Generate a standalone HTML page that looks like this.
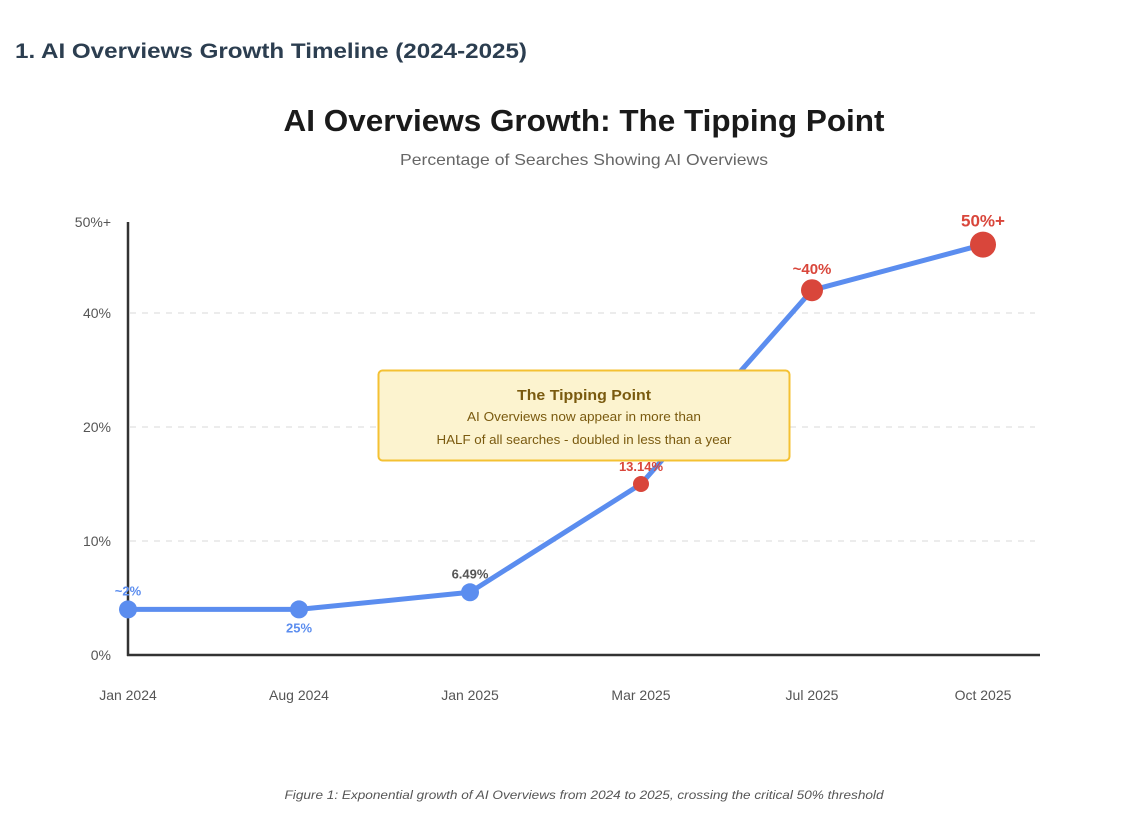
<!DOCTYPE html>
<html><head><meta charset="utf-8"><style>
body{margin:0;width:1146px;height:817px;background:#fff;font-family:"Liberation Sans","DejaVu Sans",sans-serif;overflow:hidden}
</style></head><body>
<svg id="c" width="1146" height="817" xmlns="http://www.w3.org/2000/svg">
<text x="15" y="58" font-size="21" font-weight="bold" fill="#2c3e50" textLength="512" lengthAdjust="spacingAndGlyphs">1. AI Overviews Growth Timeline (2024-2025)</text>
<text x="584" y="131" font-size="31" font-weight="bold" fill="#1a1a1a" text-anchor="middle" textLength="601" lengthAdjust="spacingAndGlyphs">AI Overviews Growth: The Tipping Point</text>
<text x="584" y="165" font-size="16" fill="#666" text-anchor="middle" textLength="368" lengthAdjust="spacingAndGlyphs">Percentage of Searches Showing AI Overviews</text>
<g id="grid"></g>
<line x1="128" y1="222" x2="128" y2="656" stroke="#333" stroke-width="2.5"/>
<line x1="127" y1="655" x2="1040" y2="655" stroke="#333" stroke-width="2.5"/>
<g id="marks"></g>
<g>
<rect x="378.5" y="370.5" width="411" height="90" rx="4" fill="#fcf3cf" stroke="#f4c133" stroke-width="2"/>
<text x="584" y="400" font-size="15" font-weight="bold" fill="#7a5a0f" text-anchor="middle" textLength="134" lengthAdjust="spacingAndGlyphs">The Tipping Point</text>
<text x="584" y="421" font-size="12.5" fill="#7a5a0f" text-anchor="middle" textLength="234" lengthAdjust="spacingAndGlyphs">AI Overviews now appear in more than</text>
<text x="584" y="444" font-size="12.5" fill="#7a5a0f" text-anchor="middle" textLength="295" lengthAdjust="spacingAndGlyphs">HALF of all searches - doubled in less than a year</text>
</g>
<text x="584" y="799" font-size="12" font-style="italic" fill="#555" text-anchor="middle" textLength="599" lengthAdjust="spacingAndGlyphs">Figure 1: Exponential growth of AI Overviews from 2024 to 2025, crossing the critical 50% threshold</text>
</svg>
<script>
const categories=["Jan 2024","Aug 2024","Jan 2025","Mar 2025","Jul 2025","Oct 2025"];
const values=[4,4,5.5,15,32,36];
const pointLabels=["~2%","25%","6.49%","13.14%","~40%","50%+"];
const tickValues=[0,10,20,30,38];
const tickLabels=["0%","10%","20%","40%","50%+"];
const NS="http://www.w3.org/2000/svg";
function x(i){return 128+i*171;}
function y(v){return 655-v*11.4;}
function mk(p,t,a){const e=document.createElementNS(NS,t);for(const k in a)e.setAttribute(k,a[k]);p.appendChild(e);return e;}
const grid=document.getElementById('grid'),marks=document.getElementById('marks');
tickValues.forEach((v,i)=>{
 if(v>0&&v<38){const l=mk(grid,'line',{x1:130,x2:1035,y1:y(v),y2:y(v),stroke:'#e6e6e6','stroke-width':1.5,'stroke-dasharray':'6 6'});
 
 }
 const t=mk(grid,'text',{x:111,y:y(v)+5,'font-size':14,fill:'#555','text-anchor':'end'});t.textContent=tickLabels[i];
 
 
});
categories.forEach((c,i)=>{
 const t=mk(grid,'text',{x:x(i),y:700,'font-size':14,fill:'#555','text-anchor':'middle'});t.textContent=c;
 
 
});
const path=mk(marks,'polyline',{points:values.map((v,i)=>x(i)+','+y(v)).join(' '),fill:'none',stroke:'#5b8def','stroke-width':5,'stroke-linejoin':'round'});


const radii=[9,9,9,8,11,13];
const colors=['#5b8def','#5b8def','#5b8def','#d9463b','#d9463b','#d9463b'];
const lcol=['#5b8def','#5b8def','#555','#d9463b','#d9463b','#d9463b'];
const fs=[13,13,13,13,15,17];
values.forEach((v,i)=>{
 const c=mk(marks,'circle',{cx:x(i),cy:y(v),r:radii[i],fill:colors[i]});
 
 
 const below=i===1;
 const t=mk(marks,'text',{x:x(i),y:below?y(v)+23:y(v)-radii[i]-5,'font-size':fs[i],'font-weight':'bold',fill:lcol[i],'text-anchor':'middle'});
 t.textContent=pointLabels[i];
 
 
});
</script>
</body></html>
